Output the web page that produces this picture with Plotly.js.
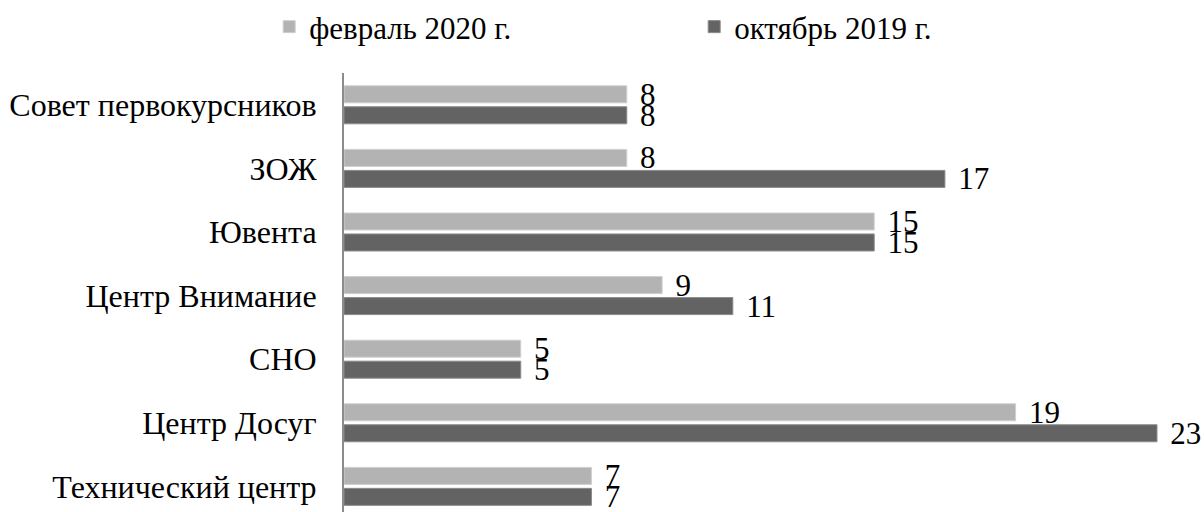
<!DOCTYPE html>
<html>
<head>
<meta charset="utf-8">
<script src="https://cdn.plot.ly/plotly-3.0.1.min.js"></script>
<style>html,body{margin:0;padding:0;background:#fff;}#chart{width:1204px;height:512px;}</style>
</head>
<body>
<div id="chart"></div>
<script>
const categories = ["Совет первокурсников", "ЗОЖ", "Ювента", "Центр Внимание", "СНО", "Центр Досуг", "Технический центр"];
const seriesNames = ["февраль 2020 г.", "октябрь 2019 г."];
const feb2020 = [8, 8, 15, 9, 5, 19, 7];
const oct2019 = [8, 17, 15, 11, 5, 23, 7];

const FONT = "'Liberation Serif', 'Times New Roman', Times, serif";
const FS = 31;

function barTrace(name, values, color, lineColor) {
  return {
    type: "bar",
    orientation: "h",
    name: name,
    y: categories,
    x: values,
    text: values.map(String),
    texttemplate: "\u2004%{text}",
    textposition: "outside",
    constraintext: "none",
    cliponaxis: false,
    textfont: {family: FONT, size: FS, color: "#000"},
    marker: {color: color, line: {color: lineColor, width: 1}},
    hoverinfo: "none"
  };
}

const data = [
  barTrace(seriesNames[0], feb2020, "#b3b3b3", "#cfcfcf"),
  barTrace(seriesNames[1], oct2019, "#636363", "#8a8a8a")
];

const layout = {
  width: 1204,
  height: 512,
  margin: {l: 344, r: 0, t: 72, b: 0, pad: 0},
  paper_bgcolor: "#fff",
  plot_bgcolor: "#fff",
  barmode: "group",
  bargap: 0.34,
  bargroupgap: 0.19,
  font: {family: FONT, size: FS, color: "#000"},
  showlegend: true,
  legend: {
    orientation: "h",
    x: -0.087, xanchor: "left",
    y: 1.105, yanchor: "middle",
    entrywidth: 380,
    font: {family: FONT, size: FS, color: "#000"},
    bgcolor: "rgba(0,0,0,0)"
  },
  xaxis: {
    range: [0, 24.33],
    showgrid: false,
    zeroline: false,
    showline: false,
    showticklabels: false,
    ticks: "",
    fixedrange: true
  },
  yaxis: {
    type: "category",
    range: [6.403, -0.5],
    showgrid: false,
    zeroline: false,
    showline: true,
    linecolor: "#8c8c8c",
    linewidth: 2,
    ticks: "",
    ticklabelstandoff: 19,
    tickfont: {family: FONT, size: 32, color: "#000"},
    fixedrange: true
  }
};

Plotly.newPlot("chart", data, layout, {staticPlot: true, displayModeBar: false});
</script>
</body>
</html>
